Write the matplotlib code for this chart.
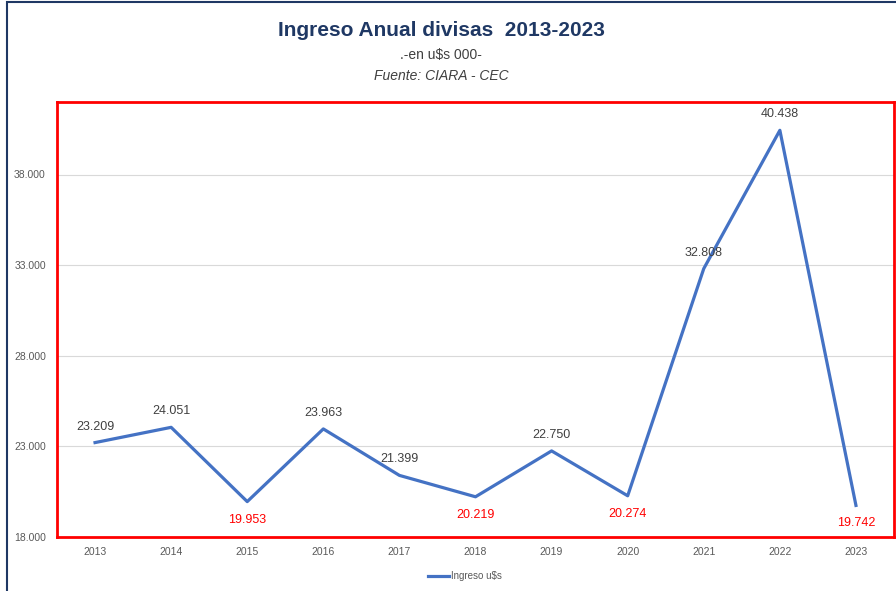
import matplotlib
matplotlib.use('Agg')

import matplotlib.pyplot as plt
from matplotlib.patches import Rectangle
from matplotlib.ticker import FuncFormatter

# data
years = ['2013', '2014', '2015', '2016', '2017', '2018', '2019', '2020', '2021', '2022', '2023']
ingreso = [23209, 24051, 19953, 23963, 21399, 20219, 22750, 20274, 32808, 40438, 19742]
label_below = ['2015', '2018', '2020', '2023']  # red labels under the point

plt.rcParams['font.family'] = ['Liberation Sans Narrow', 'Liberation Sans', 'DejaVu Sans']

fig = plt.figure(figsize=(8.96, 5.91), dpi=100)

# outer frame of the chart object
fig.patches.append(Rectangle((7 / 896, -0.05), 1.1, 1 - 2 / 591 + 0.05,
                             transform=fig.transFigure, fill=False,
                             edgecolor='#1F3864', linewidth=1.5))

ax = fig.add_axes([57 / 896, 54 / 591, 837 / 896, 435 / 591])

x = list(range(len(years)))
ax.plot(x, ingreso, color='#4472C4', linewidth=2.3, label='Ingreso u$s')

for xi, yr, v in zip(x, years, ingreso):
    txt = f'{v:,}'.replace(',', '.')
    if yr in label_below:
        ax.annotate(txt, (xi, v), xytext=(0, -13), textcoords='offset points',
                    ha='center', va='center', color='#FF0000', fontsize=9)
    else:
        ax.annotate(txt, (xi, v), xytext=(0, 11.5), textcoords='offset points',
                    ha='center', va='center', color='#404040', fontsize=9)

ax.set_xlim(-0.5, len(years) - 0.5)
ax.set_ylim(18000, 42000)
ax.set_xticks(x)
ax.set_xticklabels(years)
ax.set_yticks([18000, 23000, 28000, 33000, 38000])
ax.yaxis.set_major_formatter(FuncFormatter(lambda v, p: f'{int(v):,}'.replace(',', '.')))
ax.tick_params(axis='both', length=0, labelsize=7.5, colors='#595959')
ax.tick_params(axis='x', pad=7)
ax.tick_params(axis='y', pad=8)
ax.grid(axis='y', color='#D9D9D9', linewidth=0.8)
ax.set_axisbelow(True)
for s in ax.spines.values():
    s.set_color('#FF0000')
    s.set_linewidth(2)

fig.text(441 / 896, 1 - 30 / 591, 'Ingreso Anual divisas  2013-2023', ha='center', va='center',
         fontsize=15, fontweight='bold', color='#1F3864')
fig.text(441 / 896, 1 - 55 / 591, '.-en u$s 000-', ha='center', va='center',
         fontsize=10, color='#404040')
fig.text(441 / 896, 1 - 76 / 591, 'Fuente: CIARA - CEC', ha='center', va='center',
         fontsize=10, style='italic', color='#404040')

fig.legend(loc='center', bbox_to_anchor=(465 / 896, 1 - 576 / 591), frameon=False,
           fontsize=7, handlelength=2.2, handletextpad=0.2, labelcolor='#595959')

fig.savefig('out.png', dpi=100)
